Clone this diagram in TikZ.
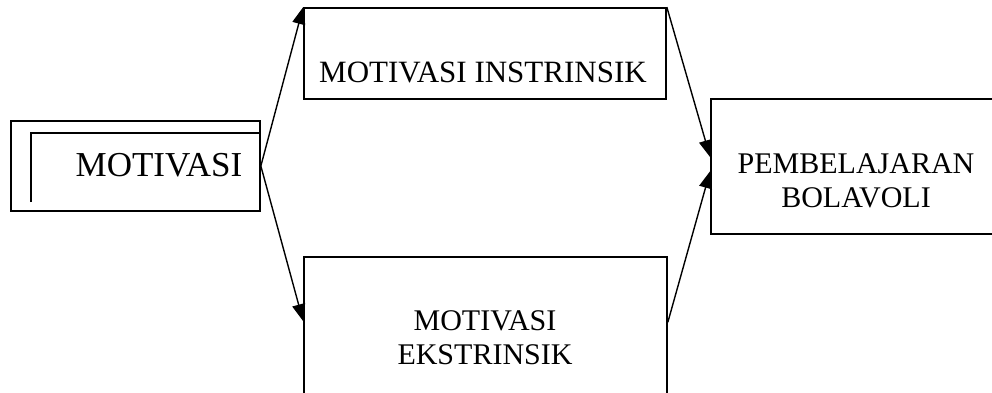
\documentclass[tikz,border=0pt]{standalone}
\usepackage{fontspec}
\setmainfont{Liberation Serif}
\usetikzlibrary{arrows.meta,calc}
\begin{document}
\begin{tikzpicture}[x=1pt,y=-1pt,
  box/.style={draw,line width=1.7pt,inner sep=0pt,rectangle},
  lbl/.style={inner sep=0pt,align=center,font=\fontsize{30}{34}\selectfont},
  arr/.style={line width=1.4pt,-{Triangle[length=17pt,width=13pt]}}]
\useasboundingbox (0,0) rectangle (992,392);
\clip (0,0) rectangle (992,392);
\fill[white] (0,0) rectangle (992,392);
% boxes
\node[box,minimum width=249pt,minimum height=90pt] (mot) at (135.5,166) {};
\draw[line width=1.7pt] (31,202) -- (31,133) -- (mot.east |- 0,133);
\node[lbl,font=\fontsize{35}{38}\selectfont] (motT) at (159,165) {MOTIVASI};
\node[box,minimum width=362pt,minimum height=91pt] (ins) at (485,53.5) {};
\node[lbl,font=\fontsize{31}{34}\selectfont] (insT) at (483,72) {MOTIVASI INSTRINSIK};
\node[box,minimum width=363pt,minimum height=150pt] (eks) at (485.5,332) {};
\node[lbl] (eksT) at (485,338) {MOTIVASI\\EKSTRINSIK};
\node[box,minimum width=300pt,minimum height=135pt] (pb) at (861,166.5) {};
\node[lbl] (pbT) at (856,181) {PEMBELAJARAN\\BOLAVOLI};
% connectors
\draw[arr] (mot.east) -- (ins.north west);
\draw[arr] (mot.east) -- ($(eks.north west)+(0,65)$);
\draw[arr] (ins.north east) -- ($(pb.north west)+(0,59)$);
\draw[arr] ($(eks.north east)+(0,66)$) -- ($(pb.north west)+(0,73)$);
\end{tikzpicture}
\end{document}
